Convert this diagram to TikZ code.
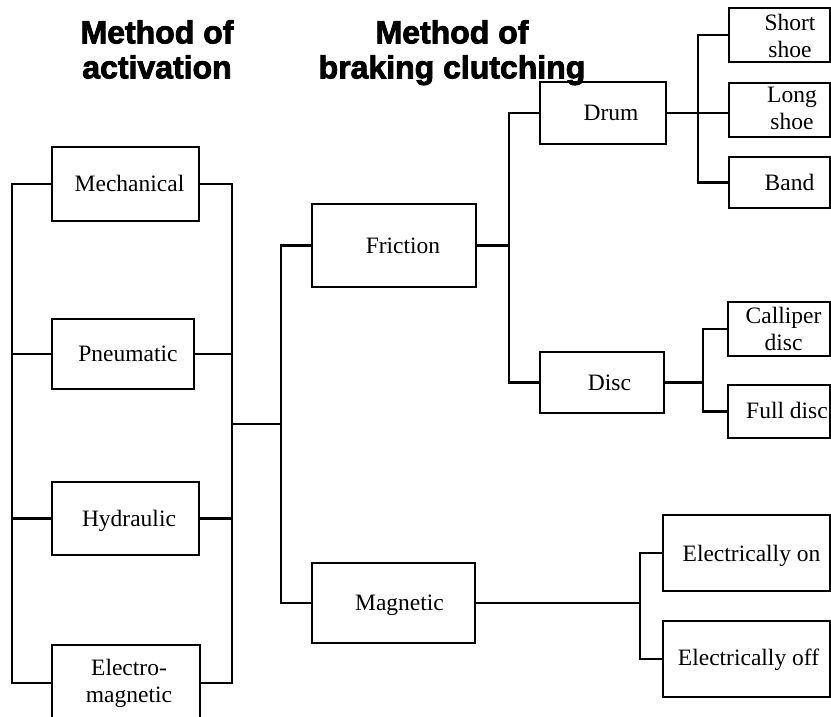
\documentclass[tikz,border=0pt]{standalone}
\usepackage{fontspec}
\setmainfont{Liberation Serif}
\newfontfamily\hdrfont{Liberation Sans}[BoldFeatures={FakeBold=2.6}]
\begin{document}
\begin{tikzpicture}[x=1pt,y=-1pt,
  box/.style={draw, line width=2.4pt, inner sep=0pt},
  txt/.style={font=\fontsize{23.5}{27}\selectfont, inner sep=0pt, align=center},
  hdr/.style={font=\hdrfont\bfseries\fontsize{32}{35}\selectfont, inner sep=0pt, align=center},
  wire/.style={line width=2.4pt}]
\useasboundingbox (0,0) rectangle (831,716);
\clip (0,0) rectangle (831,716);

% headers
\node[hdr, anchor=north] (h1) at (157,20) {Method of\\activation};
\node[hdr, anchor=north] (h2) at (452,20) {Method of\\braking clutching};

% left column boxes
\node[box, minimum width=147pt, minimum height=74pt] (mech) at (125.5,184) {};
\node[box, minimum width=142pt, minimum height=70pt] (pneu) at (123,354) {};
\node[box, minimum width=147pt, minimum height=73pt] (hyd) at (125.5,518.5) {};
\node[box, minimum width=148pt, minimum height=76pt] (elec) at (126,683) {};
\node[txt, anchor=base] (mech-t) at ([shift={(4,7.5)}]mech.center) {Mechanical};
\node[txt, anchor=base] (pneu-t) at ([shift={(5,7.5)}]pneu.center) {Pneumatic};
\node[txt, anchor=base] (hyd-t) at ([shift={(3.5,7.5)}]hyd.center) {Hydraulic};
\node[txt, anchor=north] (elec-t) at (129,659) {Electro-\\magnetic};

% middle boxes
\node[box, minimum width=164pt, minimum height=83pt] (fric) at (394,245.5) {};
\node[box, minimum width=163pt, minimum height=80pt] (magn) at (393.5,603) {};
\node[txt, anchor=base] (fric-t) at ([shift={(9,7.5)}]fric.center) {Friction};
\node[txt, anchor=base] (magn-t) at ([shift={(6,7.5)}]magn.center) {Magnetic};

\node[box, minimum width=126pt, minimum height=62pt] (drum) at (603,113) {};
\node[box, minimum width=124pt, minimum height=61pt] (disc) at (602,382.5) {};
\node[txt, anchor=base] (drum-t) at ([shift={(8,7.5)}]drum.center) {Drum};
\node[txt, anchor=base] (disc-t) at ([shift={(7.5,7.5)}]disc.center) {Disc};

% right column boxes
\node[box, minimum width=101pt, minimum height=54pt] (short) at (779.5,35) {};
\node[box, minimum width=101pt, minimum height=54pt] (long) at (779.5,110) {};
\node[box, minimum width=101pt, minimum height=51pt] (band) at (779.5,182.5) {};
\node[box, minimum width=102pt, minimum height=54pt] (cal) at (779,329) {};
\node[box, minimum width=102pt, minimum height=53pt] (full) at (779,411.5) {};
\node[box, minimum width=167pt, minimum height=76pt] (elon) at (746.5,553) {};
\node[box, minimum width=167pt, minimum height=76pt] (eloff) at (746.5,659) {};
\node[txt, anchor=north] (short-t) at (790,14) {Short\\shoe};
\node[txt, anchor=north] (long-t) at (792,87) {Long\\shoe};
\node[txt, anchor=base] (band-t) at ([shift={(10,7.5)}]band.center) {Band};
\node[txt, anchor=north] (cal-t) at (783.5,307) {Calliper\\disc};
\node[txt, anchor=base] (full-t) at ([shift={(8,7)}]full.center) {Full disc};
\node[txt, anchor=base] (elon-t) at ([shift={(5,8.5)}]elon.center) {Electrically on};
\node[txt, anchor=base] (eloff-t) at ([shift={(2,6)}]eloff.center) {Electrically off};

% bus coordinates
\coordinate (lb) at (12,0);
\coordinate (rb) at (232,0);
\coordinate (tj) at (232,424);
\coordinate (fb) at (281,0);
\coordinate (db) at (509,0);
\coordinate (sb) at (698,0);
\coordinate (cb) at (703,0);
\coordinate (mb) at (640,0);

% left buses
\draw[wire] (mech.west) -- (mech.west -| lb) -- (elec.west -| lb) -- (elec.west);
\draw[wire] (pneu.west) -- (pneu.west -| lb);
\draw[wire] (hyd.west) -- (hyd.west -| lb);
\draw[wire] (mech.east) -- (mech.east -| rb) -- (elec.east -| rb) -- (elec.east);
\draw[wire] (pneu.east) -- (pneu.east -| rb);
\draw[wire] (hyd.east) -- (hyd.east -| rb);
\draw[wire] (tj) -- (tj -| fb);

% friction / magnetic
\draw[wire] (fric.west) -- (fric.west -| fb) -- (magn.west -| fb) -- (magn.west);
\draw[wire] (fric.east) -- (fric.east -| db);
\draw[wire] (drum.west) -- (drum.west -| db) -- (disc.west -| db) -- (disc.west);

% drum
\draw[wire] (drum.east) -- (drum.east -| long.west);
\draw[wire] (short.west) -- (short.west -| sb) -- (band.west -| sb) -- (band.west);

% disc
\draw[wire] (disc.east) -- (disc.east -| cb);
\draw[wire] (cal.west) -- (cal.west -| cb) -- (full.west -| cb) -- (full.west);

% magnetic
\draw[wire] (magn.east) -- (magn.east -| mb);
\draw[wire] (elon.west) -- (elon.west -| mb) -- (eloff.west -| mb) -- (eloff.west);
\end{tikzpicture}
\end{document}
